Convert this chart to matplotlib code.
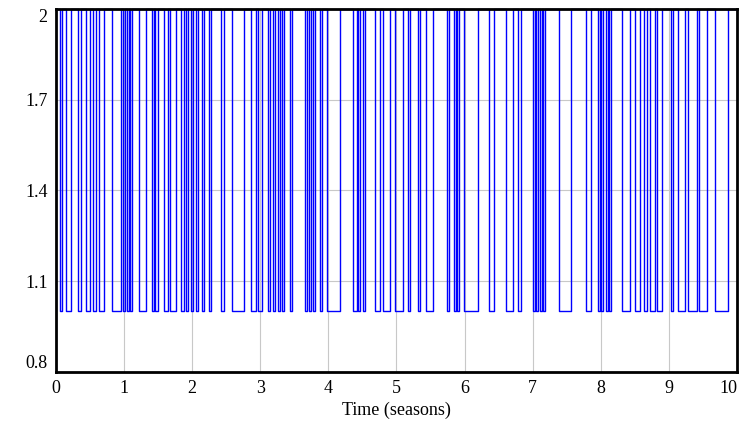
import numpy as np
import matplotlib
matplotlib.use("Agg")
import matplotlib.pyplot as plt

# periods where the signal drops to the low level (start, end)
low_start = [0.06, 0.15, 0.32, 0.44, 0.54, 0.63, 0.82,
             0.98, 1.04, 1.09, 1.22, 1.41, 1.45, 1.59, 1.67, 1.84, 1.91,
             1.98, 2.06, 2.14, 2.25, 2.42, 2.58, 2.86, 2.97,
             3.11, 3.19, 3.26, 3.32, 3.44, 3.66, 3.72, 3.77, 3.88, 3.98,
             4.36, 4.43, 4.51, 4.68, 4.80, 4.98,
             5.17, 5.32, 5.43, 5.74, 5.84, 5.89, 5.99,
             6.36, 6.61, 6.78,
             7.00, 7.05, 7.11, 7.15, 7.39, 7.78, 7.96,
             8.01, 8.08, 8.12, 8.31, 8.50, 8.64, 8.72, 8.83,
             9.03, 9.13, 9.28, 9.44, 9.68]
low_end = [0.09, 0.22, 0.37, 0.50, 0.59, 0.70, 0.95,
           1.01, 1.07, 1.12, 1.32, 1.44, 1.50, 1.64, 1.76, 1.88, 1.94,
           2.01, 2.09, 2.17, 2.28, 2.47, 2.76, 2.94, 3.03,
           3.14, 3.22, 3.29, 3.35, 3.47, 3.69, 3.74, 3.80, 3.91, 4.17,
           4.42, 4.46, 4.54, 4.76, 4.90, 5.10,
           5.20, 5.35, 5.54, 5.77, 5.87, 5.92, 6.20,
           6.43, 6.71, 6.83,
           7.03, 7.08, 7.14, 7.18, 7.56, 7.86, 7.99,
           8.03, 8.11, 8.15, 8.43, 8.58, 8.68, 8.80, 8.90,
           9.06, 9.24, 9.41, 9.56, 9.87]
high_level = 2
low_level = 1
t_end = 10

xticks = [0, 1, 2, 3, 4, 5, 6, 7, 8, 9, 10]
yticks = [0.8, 1.1, 1.4, 1.7, 2]
ytick_labels = ["0.8", "1.1", "1.4", "1.7", "2"]

# build step signal
t = [0.0]
v = [high_level]
for s, e in zip(low_start, low_end):
    t += [s, e]
    v += [low_level, high_level]
t.append(t_end)
v.append(high_level)

plt.rcParams['font.family'] = ['Liberation Serif', 'DejaVu Serif']

fig = plt.figure(figsize=(7.45, 4.30), dpi=100)
ax = fig.add_axes([0.0752, 0.135, 0.914, 0.844])

ax.plot(t, v, drawstyle='steps-post', color='#0000ff', lw=1.0, clip_on=False, zorder=2)

ax.set_xlim(0, 10)
ax.set_ylim(0.8, 2.0)
ax.set_xticks(xticks)
ax.set_yticks(yticks)
ax.set_yticklabels(ytick_labels)
ax.tick_params(length=0, labelsize=13, pad=6)
ax.grid(True, color='#c8c8c8', lw=0.8)
ax.set_axisbelow(True)
for sp in ax.spines.values():
    sp.set_linewidth(2)
    sp.set_zorder(3)

# end labels sit inside the axis range, as in the original
ylabs = ax.get_yticklabels()
ylabs[0].set_va('bottom')
ylabs[-1].set_va('top')
xlabs = ax.get_xticklabels()
xlabs[-1].set_ha('right')
xlabs[-1].set_x(10)

ax.set_xlabel('Time (seasons)', fontsize=13, labelpad=3)

fig.savefig('out.png', dpi=100)
